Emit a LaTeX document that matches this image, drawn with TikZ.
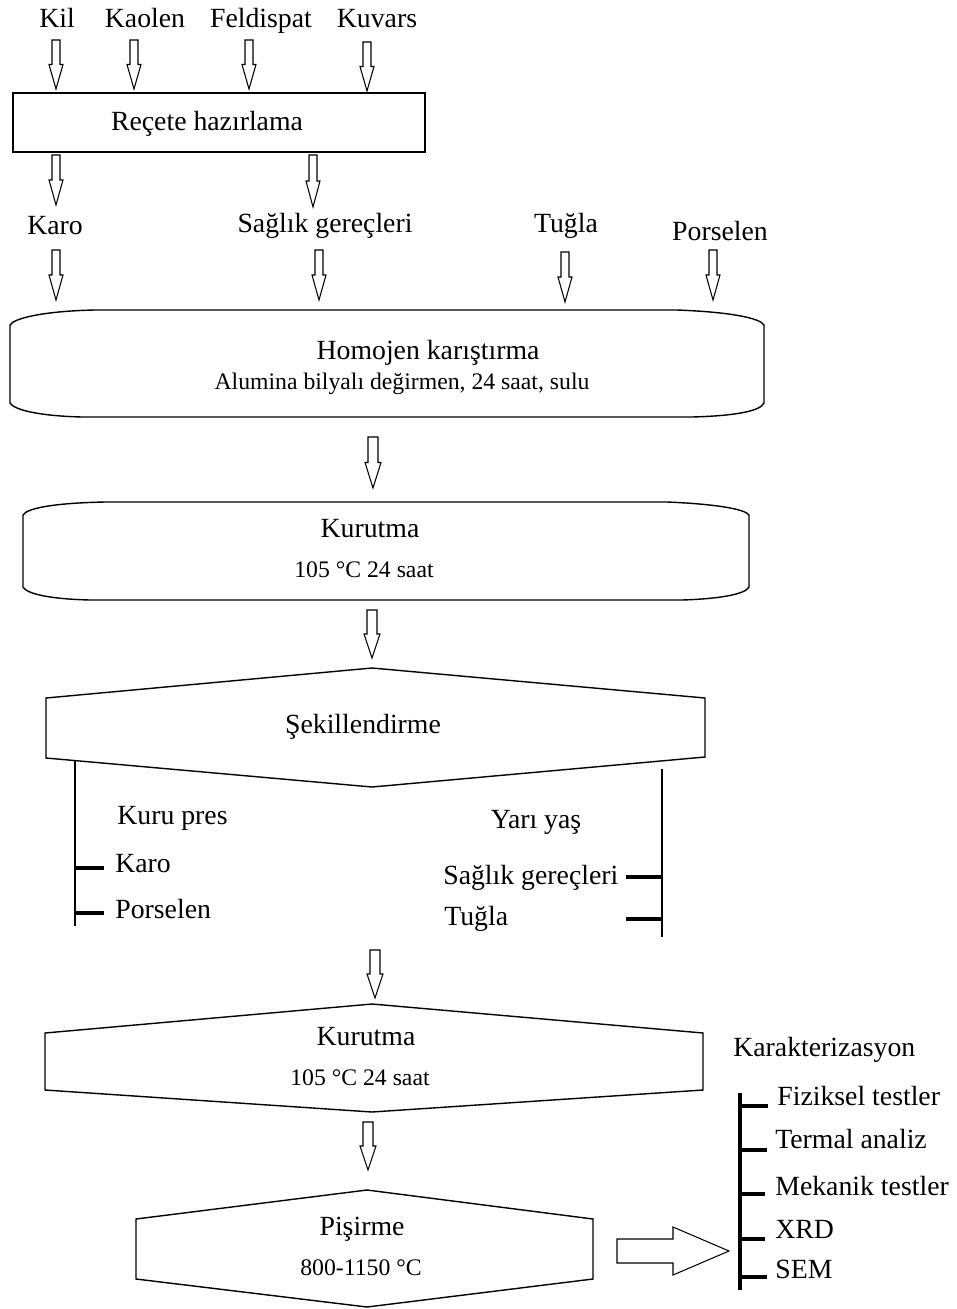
\documentclass[tikz,border=0pt]{standalone}
\usepackage{fontspec}
\setmainfont{Liberation Serif}
\tikzset{
  lbl/.style={inner sep=0pt, font=\fontsize{15.8}{18}\selectfont, anchor=base},
  lblw/.style={lbl, anchor=base west},
  sub/.style={inner sep=0pt, font=\fontsize{13.5}{16}\selectfont, anchor=base},
  frame/.style={draw=black, line width=0.8pt, line join=miter},
  blk/.style={draw=black, line width=0.6pt, fill=white, line join=miter},
  brk/.style={draw=black, line width=1.9pt},
}
% hollow block arrow pointing down: x, top, tip, half shaft width
\newcommand\blockdown[4]{%
  \draw[blk] ({#1-#4},#2) -- ({#1+#4},#2) -- ({#1+#4},{#2+0.5*(#3-#2)})
    -- ({#1+#4+3},{#2+0.5*(#3-#2)}) -- (#1,#3) -- ({#1-#4-3},{#2+0.5*(#3-#2)})
    -- ({#1-#4},{#2+0.5*(#3-#2)}) -- cycle;}
\begin{document}
\begin{tikzpicture}[x=0.02cm,y=-0.02cm]
\useasboundingbox[fill=white] (0,0) rectangle (957,1309);

% raw materials
\node[lbl] (kil) at (57,27) {Kil};
\node[lbl] (kaolen) at (145,27) {Kaolen};
\node[lbl] (feldispat) at (261,27) {Feldispat};
\node[lbl] (kuvars) at (377,27) {Kuvars};
\blockdown{56}{40}{89}{4}
\blockdown{134}{40}{89}{4}
\blockdown{249}{40}{89}{4}
\blockdown{367}{42}{91}{4}

% recipe box
\draw[frame] (13,93) rectangle (425,152);
\node[lbl] (recete) at (207,130) {Reçete hazırlama};
\blockdown{56}{155}{205}{4}
\blockdown{313}{155}{207}{4}

% product groups
\node[lbl] (karo) at (55,234) {Karo};
\node[lbl] (saglik) at (325,232) {Sağlık gereçleri};
\node[lbl] (tugla) at (566,232) {Tuğla};
\node[lbl] (porselen) at (720,240) {Porselen};
\blockdown{56}{250}{300}{4}
\blockdown{319}{250}{300}{4}
\blockdown{565}{252}{302}{4}
\blockdown{713}{250}{300}{4}

% homogeneous mixing
\draw[frame] (95,310) -- (677,310) .. controls (730,312) and (760,318) .. (764,325)
  -- (764,403) .. controls (760,412) and (730,416) .. (692,417) -- (82,417)
  .. controls (40,416) and (14,410) .. (10,403) -- (10,325)
  .. controls (14,318) and (45,311) .. (95,310) -- cycle;
\node[lbl] (homojen) at (428,359) {Homojen karıştırma};
\node[sub] (alumina) at (402,389) {Alumina bilyalı değirmen, 24 saat, sulu};
\blockdown{373}{437}{488}{5}

% drying
\draw[frame] (105,502) -- (667,502) .. controls (715,504) and (745,509) .. (749,515)
  -- (749,587) .. controls (745,595) and (715,599) .. (682,600) -- (90,600)
  .. controls (50,599) and (27,594) .. (23,587) -- (23,515)
  .. controls (27,508) and (55,503) .. (105,502) -- cycle;
\node[lbl] (kurutma1) at (370,537) {Kurutma};
\node[sub] (kosul1) at (364,577) {105 °C 24 saat};
\blockdown{372}{610}{658}{5}

% shaping
\draw[frame] (46,698) -- (372,668) -- (705,698) -- (705,757) -- (372,787) -- (46,758) -- cycle;
\node[lbl] (sekil) at (363,733) {Şekillendirme};

\draw[brk, line width=1.6pt] (75,760) -- (75,926);
\draw[brk] (75,868) -- (104,868);
\draw[brk] (75,913) -- (104,913);
\node[lblw] (kurupres) at (117,824) {Kuru pres};
\node[lblw] (karo2) at (115,872) {Karo};
\node[lblw] (porselen2) at (115,918) {Porselen};

\draw[brk, line width=1.6pt] (662,769) -- (662,937);
\draw[brk] (626,877) -- (662,877);
\draw[brk] (626,919) -- (662,919);
\node[lbl] (yariyas) at (536,828) {Yarı yaş};
\node[lblw] (saglik2) at (443,884) {Sağlık gereçleri};
\node[lblw] (tugla2) at (444,925) {Tuğla};
\blockdown{375}{950}{998}{5}

% second drying
\draw[frame] (45,1033) -- (372,1004) -- (703,1033) -- (703,1090) -- (372,1112) -- (45,1090) -- cycle;
\node[lbl] (kurutma2) at (366,1045) {Kurutma};
\node[sub] (kosul2) at (360,1085) {105 °C 24 saat};
\blockdown{368}{1122}{1170}{5}

% firing
\draw[frame] (136,1219) -- (367,1190) -- (593,1219) -- (593,1279) -- (367,1307) -- (136,1279) -- cycle;
\node[lbl] (pisirme) at (362,1235) {Pişirme};
\node[sub] (kosul3) at (361,1275) {800-1150 °C};

% arrow to characterisation
\draw[blk] (617,1239) -- (673,1239) -- (673,1227) -- (729,1251) -- (673,1275) -- (673,1263) -- (617,1263) -- cycle;

% characterisation
\node[lblw] (karakter) at (733,1056) {Karakterizasyon};
\draw[brk] (740,1093) -- (740,1290);
\draw[brk] (740,1106) -- (768,1106);
\draw[brk] (740,1150) -- (767,1150);
\draw[brk] (740,1194) -- (765,1194);
\draw[brk] (740,1239) -- (765,1239);
\draw[brk] (740,1277) -- (767,1277);
\node[lblw] (fiziksel) at (777,1105) {Fiziksel testler};
\node[lblw] (termal) at (775,1148) {Termal analiz};
\node[lblw] (mekanik) at (775,1195) {Mekanik testler};
\node[lblw] (xrd) at (775,1238) {XRD};
\node[lblw] (sem) at (775,1278) {SEM};
\end{tikzpicture}
\end{document}
